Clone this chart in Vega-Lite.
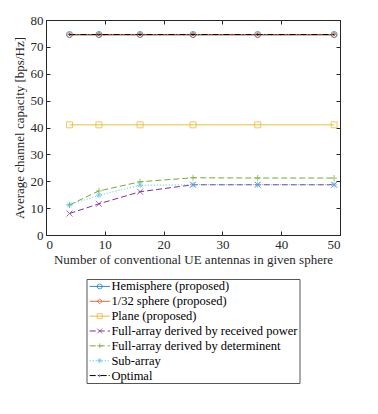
{
  "$schema": "https://vega.github.io/schema/vega-lite/v6.json",
  "padding": {"left": 13, "top": 14, "right": 5, "bottom": 5},
  "background": "white",
  "config": {
    "font": "Liberation Serif",
    "view": {"stroke": null},
    "style": {"guide-label": {"font": "Liberation Serif", "fontSize": 13}, "guide-title": {"font": "Liberation Serif", "fontSize": 13, "fontWeight": "normal"}},
    "axis": {"labelFont": "Liberation Serif", "titleFont": "Liberation Serif", "labelFontSize": 13, "titleFontSize": 13, "titleFontWeight": "normal", "labelColor": "#262626", "titleColor": "#262626", "domainColor": "#262626", "tickColor": "#262626", "grid": false}
  },
  "datasets": {
    "curves": [
      {"series": "Hemisphere (proposed)", "x": 4, "y": 74.6},
      {"series": "Hemisphere (proposed)", "x": 9, "y": 74.6},
      {"series": "Hemisphere (proposed)", "x": 16, "y": 74.6},
      {"series": "Hemisphere (proposed)", "x": 25, "y": 74.6},
      {"series": "Hemisphere (proposed)", "x": 36, "y": 74.6},
      {"series": "Hemisphere (proposed)", "x": 49, "y": 74.6},
      {"series": "1/32 sphere (proposed)", "x": 4, "y": 74.4},
      {"series": "1/32 sphere (proposed)", "x": 9, "y": 74.4},
      {"series": "1/32 sphere (proposed)", "x": 16, "y": 74.4},
      {"series": "1/32 sphere (proposed)", "x": 25, "y": 74.4},
      {"series": "1/32 sphere (proposed)", "x": 36, "y": 74.4},
      {"series": "1/32 sphere (proposed)", "x": 49, "y": 74.4},
      {"series": "Plane (proposed)", "x": 4, "y": 41.0},
      {"series": "Plane (proposed)", "x": 9, "y": 41.0},
      {"series": "Plane (proposed)", "x": 16, "y": 41.0},
      {"series": "Plane (proposed)", "x": 25, "y": 41.0},
      {"series": "Plane (proposed)", "x": 36, "y": 41.0},
      {"series": "Plane (proposed)", "x": 49, "y": 41.0},
      {"series": "Full-array derived by received power", "x": 4, "y": 8.0},
      {"series": "Full-array derived by received power", "x": 9, "y": 11.6},
      {"series": "Full-array derived by received power", "x": 16, "y": 16.1},
      {"series": "Full-array derived by received power", "x": 25, "y": 18.7},
      {"series": "Full-array derived by received power", "x": 36, "y": 18.7},
      {"series": "Full-array derived by received power", "x": 49, "y": 18.7},
      {"series": "Full-array derived by determinent", "x": 4, "y": 11.2},
      {"series": "Full-array derived by determinent", "x": 9, "y": 16.4},
      {"series": "Full-array derived by determinent", "x": 16, "y": 19.8},
      {"series": "Full-array derived by determinent", "x": 25, "y": 21.3},
      {"series": "Full-array derived by determinent", "x": 36, "y": 21.2},
      {"series": "Full-array derived by determinent", "x": 49, "y": 21.2},
      {"series": "Sub-array", "x": 4, "y": 11.2},
      {"series": "Sub-array", "x": 9, "y": 14.8},
      {"series": "Sub-array", "x": 16, "y": 18.5},
      {"series": "Sub-array", "x": 25, "y": 18.7},
      {"series": "Sub-array", "x": 36, "y": 18.7},
      {"series": "Sub-array", "x": 49, "y": 18.7},
      {"series": "Optimal", "x": 4, "y": 74.6},
      {"series": "Optimal", "x": 9, "y": 74.6},
      {"series": "Optimal", "x": 16, "y": 74.6},
      {"series": "Optimal", "x": 25, "y": 74.6},
      {"series": "Optimal", "x": 36, "y": 74.6},
      {"series": "Optimal", "x": 49, "y": 74.6}
    ],
    "entries": [
      {"series": "Hemisphere (proposed)"},
      {"series": "1/32 sphere (proposed)"},
      {"series": "Plane (proposed)"},
      {"series": "Full-array derived by received power"},
      {"series": "Full-array derived by determinent"},
      {"series": "Sub-array"},
      {"series": "Optimal"}
    ]
  },
  "vconcat": [
    {
      "width": 294,
      "height": 215,
      "data": {"name": "curves"},
      "layer": [
        {
          "mark": {"type": "line", "strokeWidth": 1},
          "encoding": {
            "x": {"field": "x", "type": "quantitative", "scale": {"domain": [0, 50]}, "axis": {"title": "Number of conventional UE antennas in given sphere", "labelFont": "Liberation Serif", "titleFont": "Liberation Serif", "values": [0, 10, 20, 30, 40, 50], "tickSize": -4, "labelPadding": 7, "titlePadding": 2}},
            "y": {"field": "y", "type": "quantitative", "scale": {"domain": [0, 80]}, "axis": {"title": "Average channel capacity [bps/Hz]", "labelFont": "Liberation Serif", "titleFont": "Liberation Serif", "values": [0, 10, 20, 30, 40, 50, 60, 70, 80], "tickSize": -4, "labelPadding": 7, "titlePadding": 4}},
            "color": {"field": "series", "type": "nominal", "legend": null, "scale": {"domain": ["Hemisphere (proposed)", "1/32 sphere (proposed)", "Plane (proposed)", "Full-array derived by received power", "Full-array derived by determinent", "Sub-array", "Optimal"], "range": ["#0072BD", "#D95319", "#EDB120", "#7E2F8E", "#77AC30", "#4DBEEE", "#000000"]}},
            "strokeDash": {"field": "series", "type": "nominal", "legend": null, "scale": {"domain": ["Hemisphere (proposed)", "1/32 sphere (proposed)", "Plane (proposed)", "Full-array derived by received power", "Full-array derived by determinent", "Sub-array", "Optimal"], "range": [[1, 0], [1, 0], [1, 0], [6, 3], [6, 3], [1, 2], [6, 2, 1, 2]]}}
          }
        },
        {
          "mark": {"type": "point", "filled": false, "strokeWidth": 1},
          "encoding": {
            "x": {"field": "x", "type": "quantitative", "scale": {"domain": [0, 50]}, "axis": {"orient": "top", "title": null, "labels": false, "values": [0, 10, 20, 30, 40, 50], "tickSize": -4}},
            "y": {"field": "y", "type": "quantitative", "scale": {"domain": [0, 80]}, "axis": {"orient": "right", "title": null, "labels": false, "values": [0, 10, 20, 30, 40, 50, 60, 70, 80], "tickSize": -4}},
            "color": {"field": "series", "type": "nominal", "legend": null, "scale": {"domain": ["Hemisphere (proposed)", "1/32 sphere (proposed)", "Plane (proposed)", "Full-array derived by received power", "Full-array derived by determinent", "Sub-array", "Optimal"], "range": ["#0072BD", "#D95319", "#EDB120", "#7E2F8E", "#77AC30", "#4DBEEE", "#000000"]}},
            "shape": {"field": "series", "type": "nominal", "legend": null, "scale": {"domain": ["Hemisphere (proposed)", "1/32 sphere (proposed)", "Plane (proposed)", "Full-array derived by received power", "Full-array derived by determinent", "Sub-array", "Optimal"], "range": ["circle", "diamond", "square", "M-1,-1L1,1M-1,1L1,-1", "M-1,0L1,0M0,-1L0,1", "M-1,0L1,0M0,-1L0,1M-0.7,-0.7L0.7,0.7M-0.7,0.7L0.7,-0.7", "M-0.3,0A0.3,0.3 0 1,0 0.3,0A0.3,0.3 0 1,0 -0.3,0"]}},
            "size": {"value": 36}
          }
        }
      ],
      "resolve": {"axis": {"x": "independent", "y": "independent"}}
    },
    {
      "width": 213,
      "height": 104,
      "view": {"stroke": "#555555", "strokeWidth": 1},
      "data": {"name": "entries"},
      "encoding": {
        "y": {"field": "series", "type": "nominal", "sort": null, "scale": {"type": "point", "padding": 0.5}, "axis": null}
      },
      "layer": [
        {
          "mark": {"type": "rule", "strokeWidth": 1},
          "encoding": {
            "x": {"datum": 0.15, "type": "quantitative", "scale": {"domain": [0, 10]}, "axis": null},
            "x2": {"datum": 1.1},
            "color": {"field": "series", "type": "nominal", "legend": null, "scale": {"domain": ["Hemisphere (proposed)", "1/32 sphere (proposed)", "Plane (proposed)", "Full-array derived by received power", "Full-array derived by determinent", "Sub-array", "Optimal"], "range": ["#0072BD", "#D95319", "#EDB120", "#7E2F8E", "#77AC30", "#4DBEEE", "#000000"]}},
            "strokeDash": {"field": "series", "type": "nominal", "legend": null, "scale": {"domain": ["Hemisphere (proposed)", "1/32 sphere (proposed)", "Plane (proposed)", "Full-array derived by received power", "Full-array derived by determinent", "Sub-array", "Optimal"], "range": [[1, 0], [1, 0], [1, 0], [6, 3], [6, 3], [1, 2], [6, 2, 1, 2]]}}
          }
        },
        {
          "mark": {"type": "point", "filled": false, "strokeWidth": 1, "size": 25},
          "encoding": {
            "x": {"datum": 0.62, "type": "quantitative", "scale": {"domain": [0, 10]}, "axis": null},
            "color": {"field": "series", "type": "nominal", "legend": null, "scale": {"domain": ["Hemisphere (proposed)", "1/32 sphere (proposed)", "Plane (proposed)", "Full-array derived by received power", "Full-array derived by determinent", "Sub-array", "Optimal"], "range": ["#0072BD", "#D95319", "#EDB120", "#7E2F8E", "#77AC30", "#4DBEEE", "#000000"]}},
            "shape": {"field": "series", "type": "nominal", "legend": null, "scale": {"domain": ["Hemisphere (proposed)", "1/32 sphere (proposed)", "Plane (proposed)", "Full-array derived by received power", "Full-array derived by determinent", "Sub-array", "Optimal"], "range": ["circle", "diamond", "square", "M-1,-1L1,1M-1,1L1,-1", "M-1,0L1,0M0,-1L0,1", "M-1,0L1,0M0,-1L0,1M-0.7,-0.7L0.7,0.7M-0.7,0.7L0.7,-0.7", "M-0.3,0A0.3,0.3 0 1,0 0.3,0A0.3,0.3 0 1,0 -0.3,0"]}}
          }
        },
        {
          "mark": {"type": "text", "align": "left", "baseline": "middle", "fontSize": 12.5, "font": "Liberation Serif", "color": "#000000"},
          "encoding": {
            "x": {"datum": 1.17, "type": "quantitative", "scale": {"domain": [0, 10]}, "axis": null},
            "text": {"field": "series"}
          }
        }
      ]
    }
  ],
  "spacing": 44,
  "bounds": "flush",
  "center": true
}
